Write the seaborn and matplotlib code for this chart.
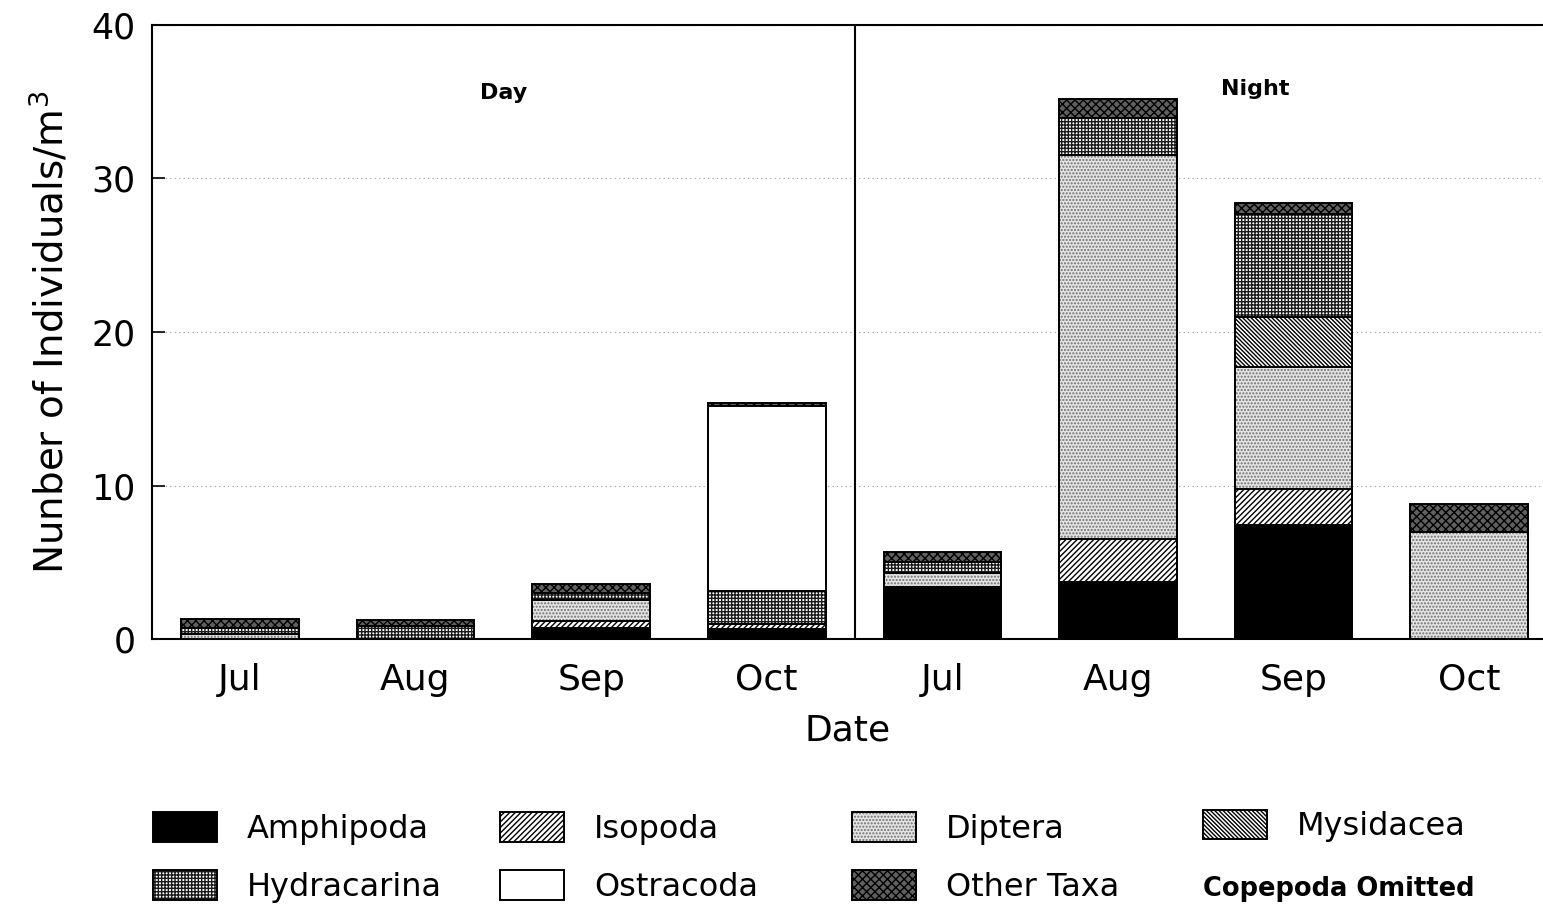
import matplotlib
matplotlib.use("Agg")
import matplotlib.pyplot as plt
import seaborn as sns
import pandas as pd
from matplotlib.patches import Patch
from matplotlib.legend_handler import HandlerTuple

# ---- data ----
periods = ["Day", "Day", "Day", "Day", "Night", "Night", "Night", "Night"]
months = ["Jul", "Aug", "Sep", "Oct", "Jul", "Aug", "Sep", "Oct"]
amphipoda = [0.0, 0.0, 0.72, 0.65, 3.4, 3.7, 7.45, 0.0]
isopoda = [0.0, 0.0, 0.45, 0.3, 0.0, 2.8, 2.35, 0.0]
diptera = [0.35, 0.0, 1.37, 0.0, 0.9, 25.0, 7.95, 7.0]
mysidacea = [0.0, 0.0, 0.0, 0.0, 0.0, 0.0, 3.2, 0.0]
hydracarina = [0.35, 0.85, 0.45, 2.2, 0.7, 2.45, 6.75, 0.0]
ostracoda = [0.0, 0.0, 0.0, 12.05, 0.0, 0.0, 0.0, 0.0]
other_taxa = [0.6, 0.4, 0.6, 0.2, 0.65, 1.25, 0.7, 1.8]
taxa = ["Amphipoda", "Isopoda", "Diptera", "Mysidacea", "Hydracarina", "Ostracoda", "Other Taxa"]
yticks = [0, 10, 20, 30, 40]

values = [amphipoda, isopoda, diptera, mysidacea, hydracarina, ostracoda, other_taxa]
keys = [f"{p} {m}" for p, m in zip(periods, months)]
df = pd.DataFrame({"key": keys, **{t: v for t, v in zip(taxa, values)}})
cum = df[taxa].cumsum(axis=1)

styles = {
    "Amphipoda": dict(face="black", hatch=None, hc="black"),
    "Isopoda": dict(face="white", hatch="//////", hc="black"),
    "Diptera": dict(face="#e4e4e4", hatch=".....", hc="#6e6e6e"),
    "Mysidacea": dict(face="white", hatch="\\\\\\\\\\\\\\\\", hc="black"),
    "Hydracarina": dict(face="white", hatch="+++++", hc="#1a1a1a"),
    "Other Taxa": dict(face="#606060", hatch="xxxx", hc="black"),
    "Ostracoda": dict(face="white", hatch=None, hc="black"),
}

sns.set_style("white")
plt.rcParams["font.family"] = ["DejaVu Sans"]
plt.rcParams["hatch.linewidth"] = 1.0
for k in ["text.color", "axes.labelcolor", "xtick.color", "ytick.color"]:
    plt.rcParams[k] = "black"

fig = plt.figure(figsize=(15.43, 9.08), dpi=100)
ax = fig.add_axes([152 / 1543, 269 / 908, 1391 / 1543, 614 / 908])


def draw(y, face, hatch, ec, lw):
    n0 = len(ax.patches)
    sns.barplot(x=df["key"], y=y, order=keys, color="white", saturation=1,
                width=0.67, errorbar=None, ax=ax)
    for p in ax.patches[n0:]:
        p.set_facecolor(face)
        p.set_hatch(hatch)
        p.set_edgecolor(ec)
        p.set_linewidth(lw)
        p.set_zorder(2)


# fills: draw cumulative bars from the top layer downward (overdraw)
for t in reversed(taxa):
    s = styles[t]
    draw(cum[t], s["face"], s["hatch"], s["hc"], 0)
# outlines
for t in reversed(taxa):
    draw(cum[t], "none", None, "black", 1.4)

ax.set_xlim(-0.5, 7.42)
ax.set_ylim(0, 40)
ax.set_yticks(yticks)
ax.set_xticks(range(len(months)))
ax.set_xticklabels(months)
ax.yaxis.grid(True, linestyle=(0, (1, 3)), color="#9a9a9a", lw=0.8)
ax.xaxis.grid(False)
ax.set_axisbelow(True)
ax.axvline(3.5, color="black", lw=1.5, zorder=3)

for side in ["left", "top", "bottom"]:
    ax.spines[side].set_color("black")
    ax.spines[side].set_linewidth(1.5)
ax.spines["right"].set_visible(False)

ax.tick_params(axis="y", direction="in", length=9, width=1.2, labelsize=25, pad=12,
               left=True, colors="black")
ax.tick_params(axis="x", length=0, labelsize=26, pad=17, colors="black")

ax.set_xlabel("Date", fontsize=26, labelpad=12, color="black")
ax.set_ylabel("Nunber of Individuals/m$^3$", fontsize=28, labelpad=14, color="black")

ax.text(1.5, 35.6, "Day", ha="center", va="center", fontsize=16, fontweight="bold")
ax.text(5.78, 35.8, "Night", ha="center", va="center", fontsize=16, fontweight="bold")


def handle(t):
    s = styles[t]
    return (Patch(facecolor=s["face"], hatch=s["hatch"], edgecolor=s["hc"], lw=0),
            Patch(facecolor="none", edgecolor="black", lw=1.4))


cols = [(["Amphipoda", "Hydracarina"], 153), (["Isopoda", "Ostracoda"], 500),
        (["Diptera", "Other Taxa"], 852), (["Mysidacea"], 1203)]
for names, xpx in cols:
    ycen = 857.5 if len(names) == 2 else 826
    fig.legend([handle(n) for n in names], names, loc="center left",
               bbox_to_anchor=(xpx / 1543, (908 - ycen) / 908),
               bbox_transform=fig.transFigure, frameon=False, fontsize=23,
               handlelength=2.0, handleheight=1.05, handletextpad=0.95,
               labelspacing=0.78, borderpad=0, borderaxespad=0,
               handler_map={tuple: HandlerTuple(ndivide=1)})

fig.text(1203 / 1543, (908 - 889) / 908, "Copepoda Omitted", ha="left", va="center",
         fontsize=18.5, fontweight="bold")

fig.savefig("out.png", dpi=100)
